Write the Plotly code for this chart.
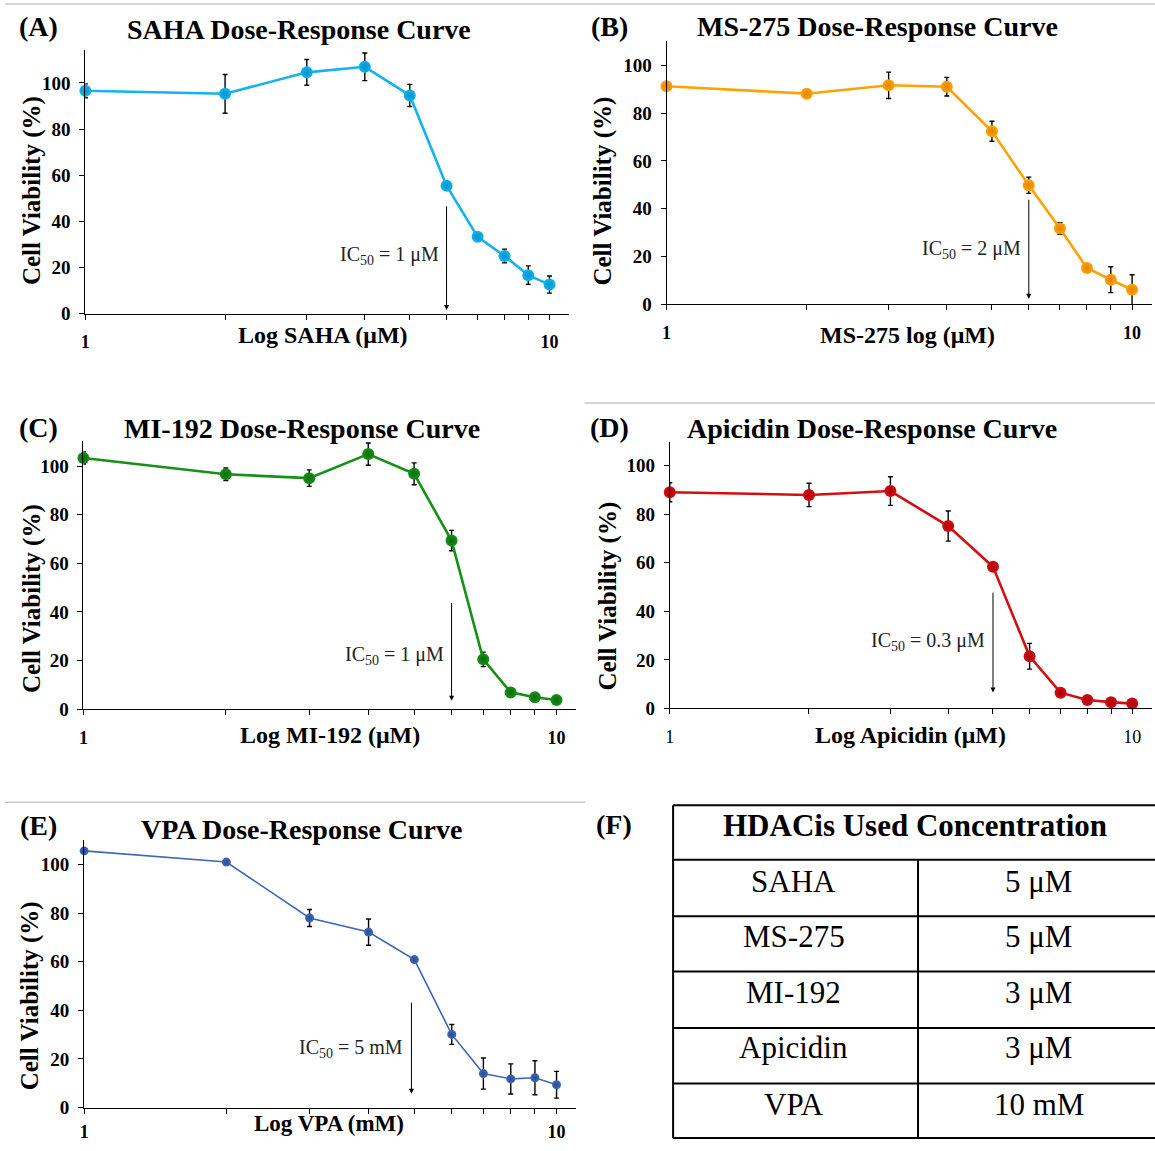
import numpy as np
import plotly.graph_objects as go

W, H = 1155, 1151

# ---------------- data ----------------
conc = [1, 2, 3, 4, 5, 6, 7, 8, 9, 10]

saha_v = [96.6, 95.3, 104.6, 107.0, 94.6, 55.5, 33.3, 25.0, 16.7, 12.6]
saha_e = [3.0, 8.4, 5.6, 6.0, 4.8, 1.0, 1.0, 3.0, 4.0, 3.7]

ms275_v = [91.2, 88.1, 91.6, 91.0, 72.4, 49.8, 31.7, 15.2, 10.3, 6.1]
ms275_e = [1.0, 1.5, 5.5, 3.9, 4.2, 3.4, 2.4, 1.0, 5.4, 6.3]

mi192_v = [103.4, 96.7, 95.1, 105.0, 96.9, 69.4, 20.5, 6.9, 4.9, 3.8]
mi192_e = [2.5, 2.6, 3.4, 4.6, 4.5, 4.2, 3.0, 0.5, 0.5, 0.5]

api_v = [89.0, 87.9, 89.5, 75.1, 58.3, 21.5, 6.5, 3.5, 2.6, 2.0]
api_e = [3.9, 4.8, 5.9, 6.2, 0.5, 5.3, 0.5, 0.5, 0.5, 0.5]

vpa_v = [105.6, 101.0, 78.0, 72.2, 60.9, 30.1, 14.0, 11.8, 12.3, 9.4]
vpa_e = [1.0, 0.5, 3.5, 5.4, 0.5, 4.1, 6.4, 6.2, 7.0, 5.5]

panel_letters = ["(A)", "(B)", "(C)", "(D)", "(E)"]
titles = ["SAHA Dose-Response Curve", "MS-275 Dose-Response Curve",
          "MI-192 Dose-Response Curve", "Apicidin Dose-Response Curve",
          "VPA Dose-Response Curve"]
xtitles = ["Log SAHA (μM)", "MS-275 log (μM)", "Log MI-192 (μM)",
           "Log Apicidin (μM)", "Log VPA (mM)"]
ic50_labels = ["IC<sub>50</sub> = 1 μM", "IC<sub>50</sub> = 2 μM", "IC<sub>50</sub> = 1 μM",
               "IC<sub>50</sub> = 0.3 μM", "IC<sub>50</sub> = 5 mM"]
ic50_arrow_x = [6, 6, 6, 5, 4.93]
ic50_arrow_top = [47.2, 44.4, 44.3, 48.3, 43.8]
ic50_arrow_tip = [1.6, 2.3, 3.5, 6.6, 5.7]
ic50_label_y = [25.2, 22.9, 22.0, 27.4, 24.5]

y_ticks = [0, 20, 40, 60, 80, 100]
x_ticktext = ["1", "", "", "", "", "", "", "", "", "10"]

table_header = "HDACis Used Concentration"
table_drugs = ["SAHA", "MS-275", "MI-192", "Apicidin", "VPA"]
table_conc = ["5 μM", "5 μM", "3 μM", "3 μM", "10 mM"]

# ---------------- styles / layout geometry (pixels) ----------------
values = [saha_v, ms275_v, mi192_v, api_v, vpa_v]
errors = [saha_e, ms275_e, mi192_e, api_e, vpa_e]
colors = ["#12B3EE", "#FFA200", "#179017", "#D40E12", "#3F67B5"]
dark = ["#0690C8", "#E08400", "#0B6E0B", "#A80008", "#2A4E96"]
msize = [12, 12, 12, 12, 9]
lw = [2.6, 2.6, 2.6, 2.6, 1.6]

# (x_left, x_right, y_top, y_bottom, xrange_max, yrange_max)
geo = [
    (80.7, 566.0, 50.7, 316.7, 1.041, 114.2),
    (664.4, 1151.6, 41.7, 307.3, 1.042, 110.0),
    (78.8, 573.4, 445.0, 716.0, 1.041, 110.5),
    (667.7, 1151.6, 446.0, 715.3, 1.042, 109.8),
    (79.5, 573.4, 848.3, 1118.3, 1.041, 110.0),
]
xtick_standoff = [7, 7, 7, 7, 3]
title_pos = [(295, 30), (876, 27), (298, 433), (871, 433), (298, 837)]
letter_pos = [(34, 27), (607, 27), (34, 432), (607, 432), (34, 833)]
ytitle_pos = [(27, 192), (601, 193), (27, 604), (606, 602), (26, 1005)]
xtitle_pos = [(319, 338), (906, 338), (326, 742), (909, 742), (325, 1134)]
xtitle_size = [24, 24, 24, 24, 23]

SERIF = "Liberation Serif, Times New Roman, serif"


def px(x):
    return x / W


def py(y):
    return 1 - y / H


fig = go.Figure()
annotations = []
shapes = []
layout = {}

for i in range(5):
    xl, xr, yt, yb, xmax, ymax = geo[i]
    xa = "xaxis" if i == 0 else f"xaxis{i+1}"
    ya = "yaxis" if i == 0 else f"yaxis{i+1}"
    xref = "x" if i == 0 else f"x{i+1}"
    yref = "y" if i == 0 else f"y{i+1}"
    tick_weight = "normal" if i == 3 else "bold"
    layout[xa] = dict(
        type="log", domain=[px(xl), px(xr)], range=[0, xmax], anchor=yref,
        tickvals=conc, ticktext=x_ticktext, ticks="outside", ticklen=5,
        tickcolor="black", tickwidth=1, showline=True, linecolor="black",
        linewidth=1, showgrid=False, zeroline=False,
        ticklabelstandoff=xtick_standoff[i],
        tickfont=dict(family=SERIF, size=18, color="black", weight=tick_weight),
        fixedrange=True,
    )
    layout[ya] = dict(
        domain=[py(yb), py(yt)], range=[0, ymax], anchor=xref,
        tickvals=y_ticks, ticks="outside", ticklen=5, tickcolor="black",
        tickwidth=1, showline=True, linecolor="black", linewidth=1,
        showgrid=False, zeroline=False, ticklabelstandoff=5,
        tickfont=dict(family=SERIF, size=19, color="black", weight="bold"),
        fixedrange=True,
    )
    fig.add_trace(go.Scatter(
        x=conc, y=values[i], xaxis=xref, yaxis=yref, mode="lines+markers",
        line=dict(color=colors[i], width=lw[i]),
        marker=dict(size=msize[i], color=colors[i],
                    gradient=dict(type="radial", color=dark[i]),
                    line=dict(width=0)),
        error_y=dict(type="data", array=errors[i], visible=True,
                     color="black", thickness=1.4, width=2.5),
        cliponaxis=False, showlegend=False,
    ))
    ax_log = float(np.log10(ic50_arrow_x[i]))
    annotations.append(dict(
        x=ax_log, y=ic50_arrow_tip[i], xref=xref, yref=yref,
        ax=ax_log, ay=ic50_arrow_top[i], axref=xref, ayref=yref,
        showarrow=True, arrowhead=2, arrowsize=1, arrowwidth=1,
        arrowcolor="black", text="",
    ))
    annotations.append(dict(
        x=ax_log, y=ic50_label_y[i], xref=xref, yref=yref,
        text=ic50_labels[i], showarrow=False, xanchor="right", yanchor="middle",
        xshift=-6, font=dict(family=SERIF, size=20, color="#222222"),
    ))
    tx, ty = title_pos[i]
    annotations.append(dict(
        x=px(tx), y=py(ty), xref="paper", yref="paper", text=titles[i],
        showarrow=False, xanchor="center", yanchor="middle",
        font=dict(family=SERIF, size=28, color="black", weight="bold"),
    ))
    lx, ly = letter_pos[i]
    annotations.append(dict(
        x=px(lx), y=py(ly), xref="paper", yref="paper", text=panel_letters[i],
        showarrow=False, xanchor="center", yanchor="middle",
        font=dict(family=SERIF, size=28, color="black", weight="bold"),
    ))
    yx, yy = ytitle_pos[i]
    annotations.append(dict(
        x=px(yx), y=py(yy), xref="paper", yref="paper",
        text="Cell Viability (%)", textangle=-90, showarrow=False,
        xanchor="center", yanchor="middle",
        font=dict(family=SERIF, size=25, color="black", weight="bold"),
    ))
    xx, xy = xtitle_pos[i]
    annotations.append(dict(
        x=px(xx), y=py(xy), xref="paper", yref="paper", text=xtitles[i],
        showarrow=False, xanchor="center", yanchor="middle",
        font=dict(family=SERIF, size=xtitle_size[i], color="black", weight="bold"),
    ))

for (x0, x1, y0) in [(0, 1155, 4), (582, 1155, 407), (0, 583, 810)]:
    shapes.append(dict(type="line", xref="paper", yref="paper",
                       x0=px(x0), x1=px(x1), y0=py(y0), y1=py(y0),
                       line=dict(color="#C8C8C8", width=1.5)))

annotations.append(dict(
    x=px(612), y=py(832), xref="paper", yref="paper", text="(F)",
    showarrow=False, xanchor="center", yanchor="middle",
    font=dict(family=SERIF, size=28, color="black", weight="bold"),
))
t_left, t_right, t_top, t_bottom, t_div = 671, 1155, 813, 1149, 917
row_lines = [868, 925, 981, 1038, 1094]
lc = dict(color="black", width=2)
shapes.append(dict(type="line", xref="paper", yref="paper", x0=px(t_left), x1=px(t_right),
                   y0=py(t_top), y1=py(t_top), line=lc))
shapes.append(dict(type="line", xref="paper", yref="paper", x0=px(t_left), x1=px(t_right),
                   y0=py(t_bottom), y1=py(t_bottom), line=lc))
shapes.append(dict(type="line", xref="paper", yref="paper", x0=px(t_left), x1=px(t_left),
                   y0=py(t_top), y1=py(t_bottom), line=lc))
shapes.append(dict(type="line", xref="paper", yref="paper", x0=px(t_div), x1=px(t_div),
                   y0=py(row_lines[0]), y1=py(t_bottom), line=lc))
for yl in row_lines:
    shapes.append(dict(type="line", xref="paper", yref="paper", x0=px(t_left), x1=px(t_right),
                       y0=py(yl), y1=py(yl), line=lc))

annotations.append(dict(
    x=px(914), y=py(833), xref="paper", yref="paper", text=table_header,
    showarrow=False, xanchor="center", yanchor="middle",
    font=dict(family=SERIF, size=31, color="black", weight="bold"),
))
row_text_y = [890, 946, 1002, 1058, 1115]
for k in range(len(table_drugs)):
    annotations.append(dict(
        x=px(792), y=py(row_text_y[k]), xref="paper", yref="paper", text=table_drugs[k],
        showarrow=False, xanchor="center", yanchor="middle",
        font=dict(family=SERIF, size=31, color="black"),
    ))
    annotations.append(dict(
        x=px(1038), y=py(row_text_y[k]), xref="paper", yref="paper", text=table_conc[k],
        showarrow=False, xanchor="center", yanchor="middle",
        font=dict(family=SERIF, size=31, color="black"),
    ))

fig.update_layout(
    width=W, height=H, margin=dict(l=0, r=0, t=0, b=0),
    paper_bgcolor="white", plot_bgcolor="white",
    annotations=annotations, shapes=shapes, showlegend=False,
    **layout,
)

fig.write_html("out.html", config={"displayModeBar": False})
